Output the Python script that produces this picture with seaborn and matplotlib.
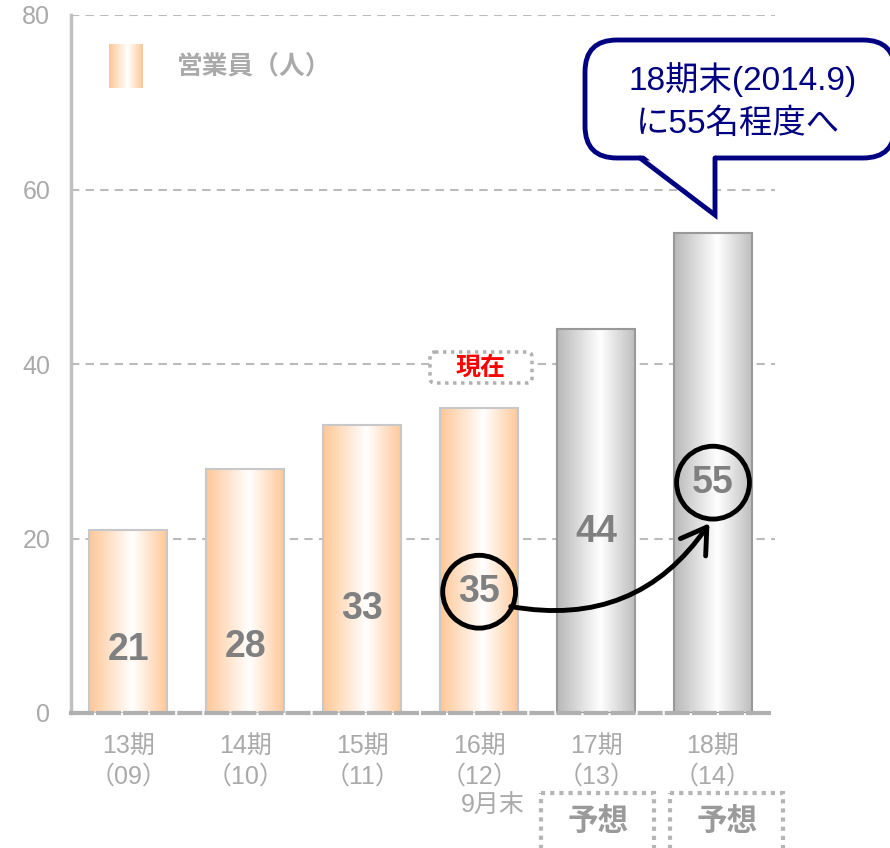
import numpy as np
import matplotlib
matplotlib.use("Agg")
import matplotlib.pyplot as plt
import matplotlib.transforms as mtransforms
from matplotlib.patches import FancyBboxPatch, Polygon, Rectangle, FancyArrowPatch
from matplotlib.colors import LinearSegmentedColormap
import seaborn as sns

# data
periods = ["13期", "14期", "15期", "16期", "17期", "18期"]
years = ["（09）", "（10）", "（11）", "（12）", "（13）", "（14）"]
staff = [21, 28, 33, 35, 44, 55]
forecast = [False, False, False, False, True, True]
y_ticks = [0, 20, 40, 60, 80]

# layout only (where the numbers sit inside the bars)
label_y = [7.2, 7.6, 11.9, 13.9, 20.8, 26.4]

sns.set_theme(style="white")
plt.rcParams["font.family"] = ["Liberation Sans", "Noto Sans CJK JP", "DejaVu Sans"]

W, H = 890, 848
fig = plt.figure(figsize=(W / 100, H / 100), dpi=100)
ax = fig.add_axes([71 / W, 1 - 713 / H, (775 - 71) / W, (713 - 15) / H])
# pixel coords, origin top-left
pix = mtransforms.Affine2D().scale(1 / W, -1 / H).translate(0, 1) + fig.transFigure

sns.barplot(x=list(range(len(staff))), y=staff, color="white", width=0.667,
            ax=ax, zorder=2)

orange = LinearSegmentedColormap.from_list(
    "o", [(0, "#ffc796"), (0.55, "#ffffff"), (1, "#ffc796")])
gray = LinearSegmentedColormap.from_list(
    "g", [(0, "#b8b8b8"), (0.55, "#ffffff"), (1, "#bcbcbc")])
grad = np.linspace(0, 1, 256).reshape(1, -1)

for p, fc in zip(ax.patches, forecast):
    x0, y0 = p.get_x(), p.get_y()
    w, h = p.get_width(), p.get_height()
    im = ax.imshow(grad, cmap=gray if fc else orange, aspect="auto",
                   extent=[x0, x0 + w, y0, y0 + h], zorder=2)
    im.set_clip_path(p)
    p.set_facecolor("none")
    p.set_edgecolor("#999999" if fc else "#c8c8c8")
    p.set_linewidth(1.5)
    p.set_zorder(3)
ax.set_xlim(-0.49, 5.53)
ax.set_ylim(0, 80)

# grid and spines
for yv in y_ticks[1:]:
    ax.axhline(yv, color="#bbbbbb", lw=1.5, ls=(0, (4, 3)), zorder=1)
for s in ["top", "right"]:
    ax.spines[s].set_visible(False)
ax.spines["left"].set_color("#c0c0c0")
ax.spines["left"].set_linewidth(2.5)
ax.spines["bottom"].set_color("#b0b0b0")
ax.spines["bottom"].set_linewidth(3)
ax.spines["bottom"].set_linestyle((0, (5, 1.5)))
ax.spines["bottom"].set_zorder(4)

ax.set_yticks(y_ticks)
ax.set_yticklabels([str(v) for v in y_ticks], color="#aaaaaa", fontsize=18)
ax.tick_params(axis="y", length=0, pad=15)
ax.set_xticks(range(len(periods)))
ax.set_xticklabels([f"{a}\n{b}" for a, b in zip(periods, years)],
                   color="#aaaaaa", fontsize=18, linespacing=1.35)
ax.tick_params(axis="x", length=0, pad=15)
ax.set_xlabel("")
ax.set_ylabel("")
ax.text(493, 806, "9月末", transform=pix, ha="center", va="center",
        color="#aaaaaa", fontsize=18)

# values inside bars
for i, (v, ly) in enumerate(zip(staff, label_y)):
    ax.text(i, ly, str(v), ha="center", va="center", color="#808080",
            fontsize=27, fontweight="bold", zorder=6)

# circles around 35 and 55
ax.scatter([3, 5], [label_y[3], label_y[5]], s=2750, facecolors="none",
           edgecolors="black", linewidths=3.5, zorder=7)
arrow = FancyArrowPatch((508, 606), (711, 521), transform=pix,
                        connectionstyle="arc3,rad=0.33",
                        arrowstyle="->,head_length=0.8,head_width=0.5",
                        mutation_scale=22, lw=3.5, color="black", zorder=8)
fig.patches.append(arrow)

# 現在 tag
fig.patches.append(FancyBboxPatch((430, 352), 102, 31, transform=pix,
                                  boxstyle="round,pad=0,rounding_size=5",
                                  fc="white", ec="#b0b0b0", lw=2.5,
                                  ls=(0, (1, 1.3)), zorder=5))
fig.text(481, 368, "現在", transform=pix, ha="center", va="center",
         color="#ff0000", fontsize=18, fontweight="bold", zorder=6)

# 予想 boxes
box_left = [541, 670]
for bx in box_left:
    fig.patches.append(Rectangle((bx, 793), 113, 70, transform=pix,
                                 fill=False, ec="#b5b5b5", lw=3,
                                 ls=(0, (1, 1.2))))
    fig.text(bx + 57, 822, "予想", transform=pix, ha="center", va="center",
             color="#9a9a9a", fontsize=22, fontweight="bold")

# legend
leg = fig.add_axes([109 / W, 1 - 88 / H, 34 / W, 44 / H])
leg.imshow(grad, cmap=orange, aspect="auto")
leg.axis("off")
fig.text(177, 66, "営業員（人）", transform=pix, ha="left", va="center",
         color="#aaaaaa", fontsize=18.5, fontweight="bold")

# callout
navy = "#000080"
fig.patches.append(FancyBboxPatch((585, 40), 310, 118, transform=pix,
                                  boxstyle="round,pad=0,rounding_size=32",
                                  fc="white", ec=navy, lw=3.5, zorder=9))
fig.patches.append(Polygon([(642, 154), (715, 213), (715, 154)],
                           transform=pix, fc="white", ec="none", zorder=10))
fig.lines.append(plt.Line2D([640, 715, 715], [158, 215, 158], transform=pix,
                            color=navy, lw=3.5, zorder=11,
                            solid_joinstyle="miter"))
fig.text(743, 80, "18期末(2014.9)", transform=pix, ha="center", va="center",
         color=navy, fontsize=24, zorder=12)
fig.text(738, 124, "に55名程度へ", transform=pix, ha="center", va="center",
         color=navy, fontsize=24, zorder=12)

fig.savefig("out.png", dpi=100)
